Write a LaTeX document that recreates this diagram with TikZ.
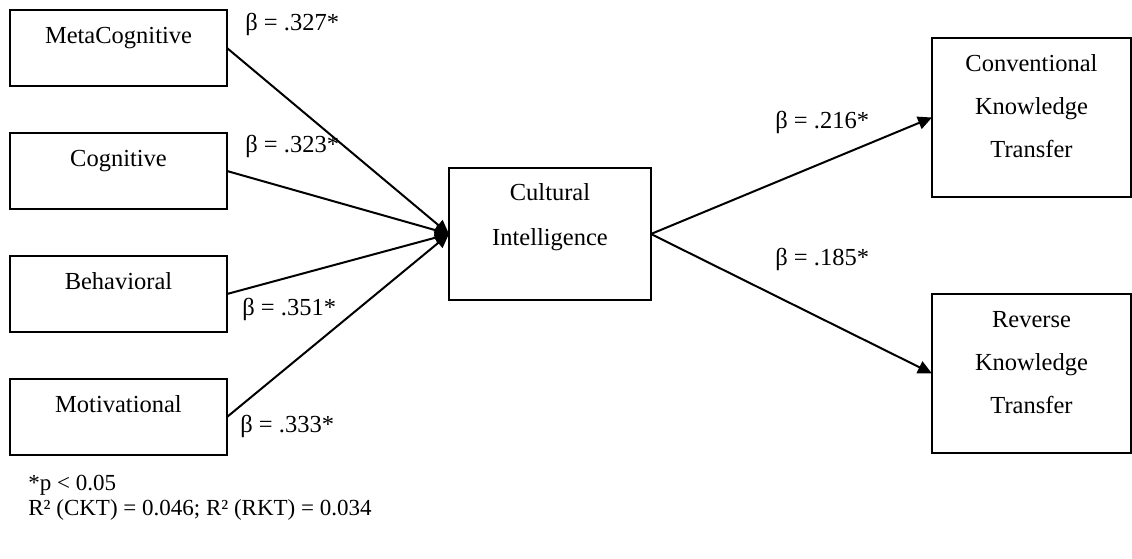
\documentclass[tikz,border=0pt]{standalone}
\usepackage{fontspec}
\setmainfont{Liberation Serif}
\usetikzlibrary{arrows.meta}

\begin{document}
\begin{tikzpicture}[%
      x=0.5pt, y=-0.5pt,
      font=\fontsize{12.25}{22}\selectfont,
      dimbox/.style={draw, line width=0.6pt, inner sep=0pt, outer sep=0pt,
        anchor=north west, text height=16.5pt, text depth=21.5pt, minimum width=108.5pt},
      cqbox/.style={draw, line width=0.6pt, inner sep=0pt, outer sep=0pt,
        anchor=north west, text width=101pt, align=center,
        font=\fontsize{12.25}{22.5}\selectfont, text height=16pt, text depth=50pt},
      ktbox/.style={draw, line width=0.6pt, inner sep=0pt, outer sep=0pt,
        anchor=north west, text width=99.5pt, align=center,
        font=\fontsize{12.25}{21.5}\selectfont, text height=16.5pt, text depth=63pt},
      coef/.style={anchor=base west, inner sep=0pt},
      note/.style={anchor=base west, inner sep=0pt, font=\fontsize{11.5}{14}\selectfont},
      path/.style={line width=1pt, -{Triangle[length=7pt,width=6.5pt]}},
      ]
      \useasboundingbox (0,0) rectangle (1132,558);

      \node [dimbox] (meta) at (10,10) {MetaCognitive};
      \node [dimbox] (cog) at (10,133) {Cognitive};
      \node [dimbox] (beh) at (10,256) {Behavioral};
      \node [dimbox] (mot) at (10,379) {Motivational};

      \node [cqbox] (cq) at (449,168) {Cultural\\Intelligence};

      \node [ktbox] (ckt) at (932,38) {Conventional\\Knowledge\\Transfer};
      \node [ktbox] (rkt) at (932,294) {Reverse\\Knowledge\\Transfer};

      \draw [path] (meta.east) -- (cq.west);
      \draw [path] (cog.east) -- (cq.west);
      \draw [path] (beh.east) -- (cq.west);
      \draw [path] (mot.east) -- (cq.west);
      \draw [path] (cq.east) -- (ckt.west);
      \draw [path] (cq.east) -- (rkt.west);

      \node [coef] (bmeta) at (245,30) {β = .327*};
      \node [coef] (bcog) at (245,152) {β = .323*};
      \node [coef] (bbeh) at (242,315) {β = .351*};
      \node [coef] (bmot) at (240,432) {β = .333*};
      \node [coef] (bckt) at (775,128) {β = .216*};
      \node [coef] (brkt) at (775,265) {β = .185*};

      \node [note] (sig) at (28,490) {*p < 0.05};
      \node [note] (rsq) at (28,515) {R² (CKT) = 0.046; R² (RKT) = 0.034};
\end{tikzpicture}
\end{document}
